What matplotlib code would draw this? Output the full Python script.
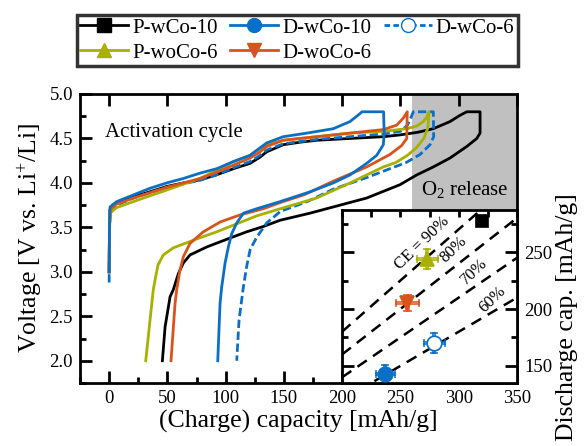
import matplotlib
matplotlib.use("Agg")
import numpy as np
import matplotlib.pyplot as plt
from matplotlib.lines import Line2D
from matplotlib.ticker import MultipleLocator, FormatStrFormatter

plt.rcParams['font.family'] = ['Liberation Serif', 'DejaVu Serif']
plt.rcParams['mathtext.fontset'] = 'custom'
plt.rcParams['mathtext.rm'] = 'Liberation Serif'
plt.rcParams['mathtext.it'] = 'Liberation Serif:italic'
plt.rcParams['mathtext.bf'] = 'Liberation Serif:bold'
SERIF = 'Liberation Serif'

# ---------------- data ----------------
labels = ["P-wCo-10", "D-wCo-10", "D-wCo-6", "P-woCo-6", "D-woCo-6"]
colors = ["#000000", "#0b6fc7", "#0b6fc7", "#a8b000", "#d9541a"]
markers = ["s", "o", "o", "^", "v"]

# P-wCo-10: activation charge then discharge
cap_pwco10_ch = [0, 0.3, 0.8, 3, 8, 20.8, 35, 49.4, 63.7, 78, 92, 106.6, 120.9, 129.5,
                 135.2, 149.5, 165, 178.2, 206.7, 235.3, 249.6, 265, 278.2, 292.5,
                 301.1, 306.9, 318.3]
v_pwco10_ch = [3.0, 3.5, 3.70, 3.75, 3.79, 3.845, 3.90, 3.96, 4.0, 4.035, 4.09, 4.16,
               4.22, 4.29, 4.35, 4.43, 4.46, 4.48, 4.50, 4.52, 4.54, 4.57, 4.61, 4.69,
               4.76, 4.80, 4.80]
cap_pwco10_dis = [318.3, 318.3, 315.5, 306.9, 292.5, 278.2, 264, 249.6, 221, 192.4,
                  172.4, 146.7, 132.3, 118, 103.7, 83.8, 69.4, 63.7, 59.4, 55.1, 52.3,
                  48, 45.7]
v_pwco10_dis = [4.80, 4.56, 4.50, 4.41, 4.28, 4.18, 4.09, 3.98, 3.83, 3.73, 3.66, 3.58,
                3.51, 3.45, 3.38, 3.28, 3.19, 3.10, 2.98, 2.80, 2.72, 2.38, 2.0]

# D-wCo-10
cap_dwco10_ch = [0, 0.3, 0.8, 6.5, 20.8, 35.1, 49.4, 63.7, 78, 92.3, 106.6, 120.9, 128,
                 135.2, 149.5, 169.6, 192.4, 206.7, 215.3, 217, 235.5]
v_dwco10_ch = [3.0, 3.5, 3.73, 3.79, 3.865, 3.94, 4.0, 4.05, 4.11, 4.16, 4.24, 4.31,
               4.38, 4.45, 4.52, 4.56, 4.61, 4.69, 4.78, 4.80, 4.80]
cap_dwco10_dis = [235.5, 236.0, 235.3, 229.6, 221, 206.7, 192.4, 172.4, 146.7, 126.7,
                  115.2, 109.5, 105.2, 102.3, 99.5, 96.6, 95.2, 93.2]
v_dwco10_dis = [4.80, 4.56, 4.43, 4.31, 4.22, 4.09, 4.0, 3.90, 3.79, 3.71, 3.66, 3.55,
                3.43, 3.28, 3.10, 2.83, 2.65, 2.0]

# D-wCo-6
cap_dwco6_ch = [0, 0.3, 0.8, 6, 20.8, 35, 49.4, 63.7, 78, 92, 106.6, 120.9, 129.5, 135.2,
                149.5, 178.2, 206.7, 235.3, 250, 256, 259.5, 261, 278.2]
v_dwco6_ch = [2.88, 3.4, 3.70, 3.75, 3.83, 3.89, 3.95, 3.99, 4.03, 4.09, 4.17, 4.24,
              4.31, 4.37, 4.44, 4.49, 4.52, 4.55, 4.58, 4.65, 4.75, 4.80, 4.80]
cap_dwco6_dis = [278.2, 278.5, 275.4, 266.8, 255, 241, 221, 192.4, 170, 147, 135.2,
                 126.7, 121, 118, 115.2, 111.5, 109.5]
v_dwco6_dis = [4.80, 4.52, 4.43, 4.32, 4.23, 4.16, 4.06, 3.93, 3.79, 3.68, 3.55, 3.39,
               3.25, 3.06, 2.83, 2.46, 2.0]

# P-woCo-6
cap_pwoco6_ch = [0, 0.3, 0.9, 6, 20.8, 35, 49.4, 63.7, 78, 92, 106.6, 120.9, 129.5,
                 135.2, 149.5, 178.2, 206.7, 235.3, 255.4, 264, 269.6, 272.5, 274.5]
v_pwoco6_ch = [3.0, 3.45, 3.66, 3.72, 3.79, 3.855, 3.92, 3.985, 4.05, 4.14, 4.24, 4.31,
               4.39, 4.43, 4.48, 4.52, 4.56, 4.58, 4.61, 4.64, 4.69, 4.74, 4.80]
cap_pwoco6_dis = [274.5, 273.5, 270, 264, 256, 246, 235.3, 206.7, 178, 149.5, 126.7,
                  109.5, 92.3, 75.2, 55.1, 46.5, 42, 40, 37.9, 36, 33.6, 31.4]
v_pwoco6_dis = [4.80, 4.62, 4.50, 4.40, 4.31, 4.23, 4.18, 4.0, 3.83, 3.72, 3.63, 3.54,
                3.45, 3.37, 3.27, 3.19, 3.08, 2.95, 2.80, 2.57, 2.27, 2.0]

# D-woCo-6
cap_dwoco6_ch = [0, 0.3, 0.8, 6, 20.8, 35, 49.4, 63.7, 78, 92, 106.6, 120.9, 129.5,
                 135.2, 149.5, 178.2, 206.7, 235.3, 246.8, 252.5, 255.8]
v_dwoco6_ch = [3.0, 3.5, 3.70, 3.76, 3.83, 3.89, 3.95, 4.0, 4.05, 4.12, 4.20, 4.28,
               4.35, 4.41, 4.48, 4.52, 4.56, 4.60, 4.65, 4.73, 4.80]
cap_dwoco6_dis = [255.8, 255.4, 251, 241, 221, 192.4, 168, 147, 132.3, 112.3, 95.2,
                  80.8, 69.4, 63.7, 60.8, 58, 56.6, 53.1]
v_dwoco6_dis = [4.80, 4.50, 4.42, 4.32, 4.18, 4.02, 3.87, 3.78, 3.71, 3.64, 3.56, 3.45,
                3.32, 3.17, 3.02, 2.80, 2.65, 2.0]

# Inset: first-cycle charge vs discharge capacity
ins_charge = [320, 237, 279, 273, 256]
ins_discharge = [277, 143, 170, 244, 205]
ins_xerr = [0, 8, 9, 9, 10]
ins_yerr = [0, 8, 9, 9, 7]
ce_values = [0.9, 0.8, 0.7, 0.6]
ce_texts = ["CE = 90%", "80%", "70%", "60%"]
ce_text_pos = [(269, 258), (296, 252), (313, 233), (329, 208)]

o2_range = (260, 350)

# ---------------- figure ----------------
fig = plt.figure(figsize=(5.86, 4.46), dpi=100)
ax = fig.add_axes([80 / 586, 1 - 383 / 446, 437 / 586, 289 / 446])

curves = [
    (cap_pwco10_ch + cap_pwco10_dis, v_pwco10_ch + v_pwco10_dis),
    (cap_dwco10_ch + cap_dwco10_dis, v_dwco10_ch + v_dwco10_dis),
    (cap_dwco6_ch + cap_dwco6_dis, v_dwco6_ch + v_dwco6_dis),
    (cap_pwoco6_ch + cap_pwoco6_dis, v_pwoco6_ch + v_pwoco6_dis),
    (cap_dwoco6_ch + cap_dwoco6_dis, v_dwoco6_ch + v_dwoco6_dis),
]
draw_order = [0, 2, 3, 4, 1]
for i in draw_order:
    cx, cv = curves[i]
    ls = (0, (3, 1.3)) if labels[i] == "D-wCo-6" else "-"
    ax.plot(cx, cv, color=colors[i], lw=2.0, ls=ls, zorder=3,
            solid_joinstyle='round')

ax.axvspan(*o2_range, color="#c0c0c0", lw=0, zorder=0)

ax.set_xlim(-25, 350)
ax.set_ylim(1.75, 5.0)
ax.xaxis.set_major_locator(MultipleLocator(50))
ax.xaxis.set_minor_locator(MultipleLocator(25))
ax.yaxis.set_major_locator(MultipleLocator(0.5))
ax.yaxis.set_minor_locator(MultipleLocator(0.25))
ax.yaxis.set_major_formatter(FormatStrFormatter("%.1f"))
ax.tick_params(which='both', direction='in', top=True, right=False, width=2,
               labelsize=13.5, pad=5, labelfontfamily=SERIF)
ax.tick_params(which='major', length=8.5)
ax.tick_params(which='minor', length=4.5, top=False)
for s in ax.spines.values():
    s.set_linewidth(2)
ax.set_xlabel("(Charge) capacity [mAh/g]", fontsize=18.5, labelpad=2)
ax.set_ylabel("Voltage [V vs. Li$^{+}$/Li]", fontsize=18.5, labelpad=3)

ax.text(-3.5, 4.57, "Activation cycle", fontsize=15, va='center', ha='left')
ax.text(305, 3.93, "O$_2$ release", fontsize=15, va='center', ha='center', zorder=4)

# ---------------- inset ----------------
ins = fig.add_axes([342 / 586, 1 - 383 / 446, 175 / 586, 173 / 446])
ins.set_xlim(200, 350)
ins.set_ylim(135, 287)

xs = np.linspace(200, 350, 50)
for ce in ce_values:
    ins.plot(xs, ce * xs, color='k', lw=1.8, ls=(0, (4.5, 3)), zorder=1)
for txt, (tx, ty) in zip(ce_texts, ce_text_pos):
    ins.text(tx, ty, txt, fontsize=12, rotation=44, ha='center', va='center',
             rotation_mode='anchor')

for i in range(len(labels)):
    x, y = ins_charge[i], ins_discharge[i]
    if ins_xerr[i] > 0:
        for d in (-1, 1):
            ins.errorbar([x + d], [y], yerr=[ins_yerr[i]], fmt='none',
                         ecolor=colors[i], elinewidth=1.1, capsize=2.5, capthick=1.1,
                         zorder=2)
            ins.errorbar([x], [y + d], xerr=[ins_xerr[i]], fmt='none',
                         ecolor=colors[i], elinewidth=1.1, capsize=2.5, capthick=1.1,
                         zorder=2)
    face = 'white' if labels[i] == "D-wCo-6" else colors[i]
    ms = 8.5 if markers[i] == 's' else 10.5
    ins.plot([x], [y], marker=markers[i], ms=ms, color=colors[i],
             mfc=face, mec=colors[i], mew=1.2, ls='none', zorder=3)

ins.xaxis.set_major_locator(MultipleLocator(50))
ins.xaxis.set_minor_locator(MultipleLocator(25))
ins.yaxis.set_major_locator(MultipleLocator(50))
ins.yaxis.set_minor_locator(MultipleLocator(25))
ins.tick_params(which='both', direction='in', left=True, right=True, top=True,
                bottom=False, labelbottom=False, labelleft=False, labelright=True,
                width=2, labelsize=13.5, pad=5, labelfontfamily=SERIF)
ins.tick_params(which='major', length=8.5)
ins.tick_params(which='minor', length=4.5)
ins.tick_params(axis='x', which='both', length=5)
for s in ins.spines.values():
    s.set_linewidth(2)
ins.yaxis.set_label_position('right')
ins.set_ylabel("Discharge cap. [mAh/g]", fontsize=18.5)
ins.yaxis.set_label_coords(1.225, 0.38)

# ---------------- legend ----------------
handles = []
for i in range(len(labels)):
    ls = (0, (2, 1.2)) if labels[i] == "D-wCo-6" else '-'
    face = 'white' if labels[i] == "D-wCo-6" else colors[i]
    handles.append(Line2D([], [], color=colors[i], lw=2, ls=ls, marker=markers[i],
                          ms=10, mfc=face, mec=colors[i], mew=1))
order = [0, 3, 1, 4, 2]
leg = fig.legend([handles[i] for i in order], [labels[i] for i in order],
                 loc='upper left', bbox_to_anchor=(77 / 586, 1 - 15 / 446),
                 ncol=3, fontsize=15, frameon=True, fancybox=False,
                 edgecolor='k', handlelength=2.3, handletextpad=0.2,
                 columnspacing=0.6, labelspacing=0.25, borderpad=0.15,
                 borderaxespad=0)
leg.get_frame().set_linewidth(2.5)

fig.savefig("out.png", dpi=100)
